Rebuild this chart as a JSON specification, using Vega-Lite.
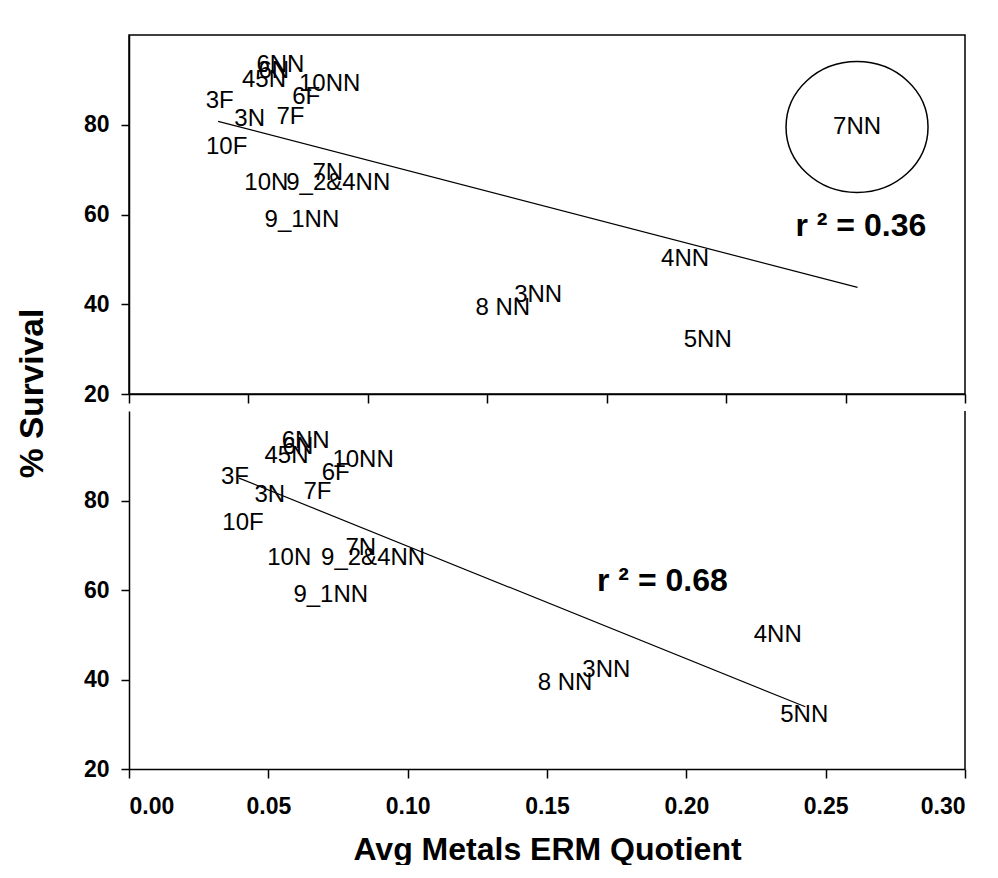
{
  "$schema": "https://vega.github.io/schema/vega-lite/v6.json",
  "background": "white",
  "padding": {"left": 14, "top": 34, "right": 0, "bottom": 0},
  "bounds": "flush",
  "spacing": 17,
  "config": {
    "font": "Liberation Sans",
    "view": {"stroke": null},
    "axis": {
      "grid": false,
      "domainColor": "black",
      "domainWidth": 1.5,
      "tickColor": "black",
      "tickWidth": 1.5,
      "labelFont": "Liberation Sans",
      "labelFontSize": 23,
      "labelFontWeight": "bold",
      "labelColor": "black",
      "titleFont": "Liberation Sans",
      "titleFontSize": 33.5,
      "titleFontWeight": "bold",
      "titleColor": "black"
    }
  },
  "datasets": {
    "pts": [
      {"site": "3F", "x": 0.038, "y": 85.2, "outlier": false},
      {"site": "3N", "x": 0.0505, "y": 81.2, "outlier": false},
      {"site": "10F", "x": 0.0409, "y": 75.0, "outlier": false},
      {"site": "45N", "x": 0.0565, "y": 89.9, "outlier": false},
      {"site": "6N", "x": 0.0606, "y": 92.0, "outlier": false},
      {"site": "6NN", "x": 0.0634, "y": 93.3, "outlier": false},
      {"site": "10NN", "x": 0.0840, "y": 89.0, "outlier": false},
      {"site": "6F", "x": 0.0742, "y": 86.1, "outlier": false},
      {"site": "7F", "x": 0.0676, "y": 81.8, "outlier": false},
      {"site": "10N", "x": 0.0575, "y": 67.1, "outlier": false},
      {"site": "9_2&4NN", "x": 0.0876, "y": 67.1, "outlier": false},
      {"site": "7N", "x": 0.0832, "y": 69.3, "outlier": false},
      {"site": "9_1NN", "x": 0.0724, "y": 58.8, "outlier": false},
      {"site": "8 NN", "x": 0.1565, "y": 39.2, "outlier": false},
      {"site": "3NN", "x": 0.1713, "y": 42.1, "outlier": false},
      {"site": "4NN", "x": 0.2328, "y": 50.0, "outlier": false},
      {"site": "5NN", "x": 0.2423, "y": 32.1, "outlier": false},
      {"site": "7NN", "x": 0.3048, "y": 79.5, "outlier": true}
    ],
    "fitTop": [
      {"x": 0.0373, "y": 80.75},
      {"x": 0.305, "y": 43.75}
    ],
    "fitBottom": [
      {"x": 0.0395, "y": 85.0},
      {"x": 0.2427, "y": 33.9}
    ],
    "r2Top": [{"label": "r ² = 0.36", "x": 0.3064, "y": 57.4}],
    "r2Bottom": [{"label": "r ² = 0.68", "x": 0.1914, "y": 61.9}]
  },
  "vconcat": [
    {
      "width": 836,
      "height": 359,
      "view": {"stroke": "black", "strokeWidth": 1.5},
      "encoding": {
        "x": {
          "field": "x",
          "type": "quantitative",
          "scale": {"domain": [0, 0.35], "nice": false},
          "axis": {"title": null, "labels": false, "values": [0, 0.05, 0.1, 0.15, 0.2, 0.25, 0.3, 0.35], "tickSize": 9}
        },
        "y": {
          "field": "y",
          "type": "quantitative",
          "scale": {"domain": [20, 100], "nice": false},
          "axis": {
            "title": "% Survival",
            "values": [20, 40, 60, 80],
            "tickSize": 8,
            "labelPadding": 12,
            "titleX": -87,
            "titleY": 358,
            "titleAngle": -90,
            "titleAlign": "center",
            "titleBaseline": "alphabetic"
          }
        }
      },
      "layer": [
        {
          "data": {"name": "fitTop"},
          "mark": {"type": "line", "color": "black", "strokeWidth": 1.2}
        },
        {
          "data": {"name": "pts"},
          "mark": {"type": "text", "fontSize": 24, "align": "center", "baseline": "middle", "color": "black"},
          "encoding": {"text": {"field": "site"}}
        },
        {
          "data": {"name": "pts"},
          "transform": [{"filter": "datum.outlier"}],
          "mark": {
            "type": "point",
            "shape": "M -1.084 0 A 1.084 1 0 1 1 1.084 0 A 1.084 1 0 1 1 -1.084 0 Z",
            "size": 17161,
            "filled": false,
            "stroke": "black",
            "strokeWidth": 1.5,
            "opacity": 1
          }
        },
        {
          "data": {"name": "r2Top"},
          "mark": {"type": "text", "fontSize": 32, "fontWeight": "bold", "align": "center", "baseline": "middle", "color": "black"},
          "encoding": {"text": {"field": "label"}}
        }
      ]
    },
    {
      "width": 836,
      "height": 358,
      "encoding": {
        "x": {
          "field": "x",
          "type": "quantitative",
          "scale": {"domain": [0, 0.3], "nice": false},
          "axis": {
            "title": "Avg Metals ERM Quotient",
            "titleFontSize": 32,
            "values": [0, 0.05, 0.1, 0.15, 0.2, 0.25, 0.3],
            "format": ".2f",
            "tickSize": 9,
            "labelPadding": 17,
            "titlePadding": 16
          }
        },
        "y": {
          "field": "y",
          "type": "quantitative",
          "scale": {"domain": [20, 100], "nice": false},
          "axis": {"title": null, "values": [20, 40, 60, 80], "tickSize": 8, "labelPadding": 12}
        }
      },
      "layer": [
        {
          "data": {"name": "fitBottom"},
          "mark": {"type": "line", "color": "black", "strokeWidth": 1.2}
        },
        {
          "data": {"name": "pts"},
          "transform": [{"filter": "!datum.outlier"}],
          "mark": {"type": "text", "fontSize": 24, "align": "center", "baseline": "middle", "color": "black"},
          "encoding": {"text": {"field": "site"}}
        },
        {
          "data": {"name": "r2Bottom"},
          "mark": {"type": "text", "fontSize": 32, "fontWeight": "bold", "align": "center", "baseline": "middle", "color": "black"},
          "encoding": {"text": {"field": "label"}}
        },
        {
          "data": {"values": [{"edge": 0.3}]},
          "mark": {"type": "rule", "color": "black", "strokeWidth": 1.5},
          "encoding": {
            "x": {"field": "edge", "type": "quantitative"},
            "y": null
          }
        }
      ]
    }
  ]
}
